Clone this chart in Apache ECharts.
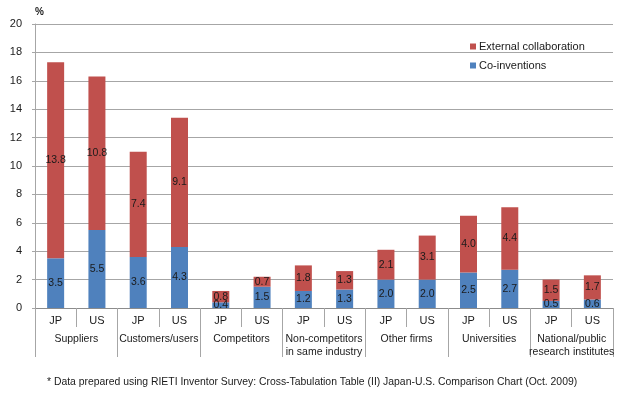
<!DOCTYPE html>
<html lang="en">
<head>
    <meta charset="UTF-8">
    <title>Co-inventions and external collaboration</title>
    <style>
        html, body { margin: 0; padding: 0; background: #fff; }
        #main { width: 630px; height: 402px; }
    </style>
</head>
<body>
<div id="main"></div>
<script src="https://cdn.jsdelivr.net/npm/echarts@6/dist/echarts.min.js"></script>
<script>
    // 分组与国别
    const groups = ['Suppliers', 'Customers/users', 'Competitors',
        'Non-competitors\nin same industry', 'Other firms', 'Universities',
        'National/public\nresearch institutes'];
    const countries = ['JP', 'US', 'JP', 'US', 'JP', 'US', 'JP', 'US', 'JP', 'US', 'JP', 'US', 'JP', 'US'];
    // 数据（JP, US 交替）
    const coInventions = [3.5, 5.5, 3.6, 4.3, 0.4, 1.5, 1.2, 1.3, 2.0, 2.0, 2.5, 2.7, 0.5, 0.6];
    const externalCollab = [13.8, 10.8, 7.4, 9.1, 0.8, 0.7, 1.8, 1.3, 2.1, 3.1, 4.0, 4.4, 1.5, 1.7];
    const yTicks = {min: 0, max: 20, interval: 2};
    const note = '* Data prepared using RIETI Inventor Survey: Cross-Tabulation Table (II) Japan-U.S. Comparison Chart (Oct. 2009)';

    const font = 'Liberation Sans, Arial, sans-serif';
    const gray = '#a6a6a6';
    const ink = '#1a1a1a';

    const myChart = echarts.init(document.getElementById('main'));

    const label = {
        show: true,
        position: 'inside',
        color: ink,
        fontSize: 10.5,
        fontFamily: font,
        formatter: p => p.value.toFixed(1)
    };

    const option = {
        animation: false,
        textStyle: {fontFamily: font},
        grid: {left: 35, right: 17, top: 24, bottom: 94},
        legend: {
            orient: 'vertical',
            left: 465,
            top: 36,
            itemWidth: 6,
            itemHeight: 6,
            itemGap: 8,
            icon: 'rect',
            textStyle: {fontSize: 11, color: ink, fontFamily: font, padding: [0, 0, 0, -2]},
            data: ['External collaboration', 'Co-inventions']
        },
        graphic: [
            {type: 'text', left: 35, top: 7,
                style: {text: '%', fontSize: 10, fontWeight: 'bold', fill: ink, fontFamily: font}},
            {type: 'text', left: 47, top: 377,
                style: {text: note, fontSize: 10.4, fill: ink, fontFamily: font}}
        ],
        xAxis: [
            {
                type: 'category',
                data: countries,
                position: 'bottom',
                axisLine: {show: true, lineStyle: {color: '#8c8c8c'}},
                axisTick: {show: true, length: 19, interval: 0, alignWithLabel: false, lineStyle: {color: gray}},
                axisLabel: {interval: 0, margin: 7, fontSize: 11, color: ink}
            },
            {
                type: 'category',
                data: groups,
                position: 'bottom',
                offset: 19,
                axisLine: {show: false},
                axisTick: {show: true, length: 30, interval: 0, alignWithLabel: false, lineStyle: {color: gray}},
                axisLabel: {interval: 0, margin: 6, fontSize: 10.5, lineHeight: 13, color: ink}
            }
        ],
        yAxis: {
            type: 'value',
            min: yTicks.min,
            max: yTicks.max,
            interval: yTicks.interval,
            axisLine: {show: true, lineStyle: {color: gray}},
            axisTick: {show: true, length: 3, lineStyle: {color: gray}},
            axisLabel: {fontSize: 11, color: ink, margin: 13},
            splitLine: {lineStyle: {color: gray}}
        },
        series: [
            {
                name: 'Co-inventions',
                type: 'bar',
                stack: 'total',
                barWidth: 17,
                itemStyle: {color: '#4F81BD'},
                label,
                data: coInventions
            },
            {
                name: 'External collaboration',
                type: 'bar',
                stack: 'total',
                barWidth: 17,
                itemStyle: {color: '#C0504D'},
                label,
                data: externalCollab
            }
        ]
    };

    myChart.setOption(option);
</script>
</body>
</html>
